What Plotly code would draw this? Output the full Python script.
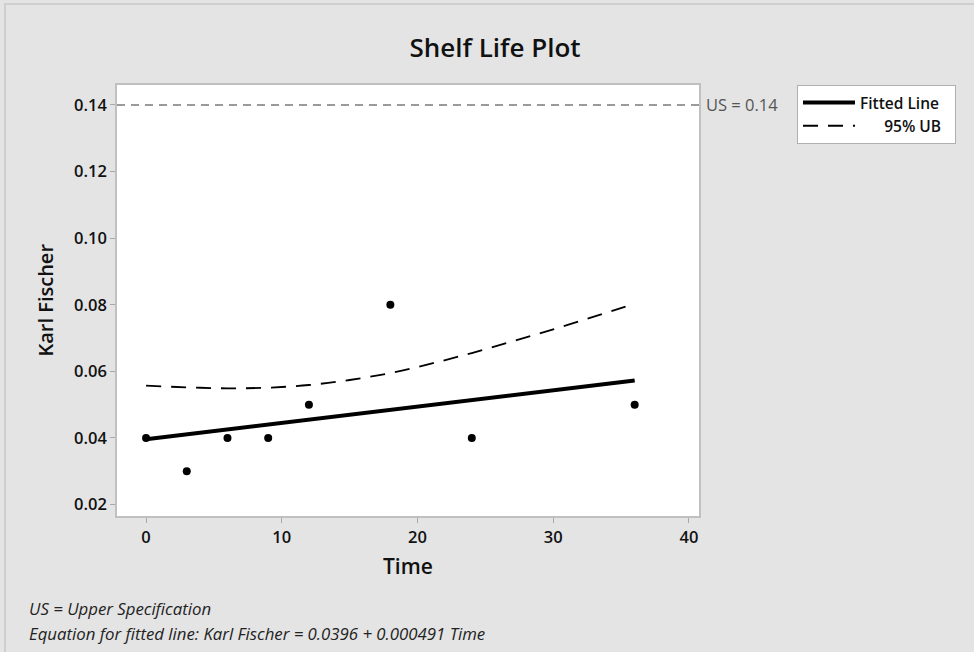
import plotly.graph_objects as go

# Stability data: Karl Fischer water content over time
time = [0, 3, 6, 9, 12, 18, 24, 36]
karl_fischer = [0.04, 0.03, 0.04, 0.04, 0.05, 0.08, 0.04, 0.05]

# Fitted line coefficients (Karl Fischer = b0 + b1 * Time)
intercept = 0.0396
slope = 0.000491
fit_time = [0, 36]
fit_value = [intercept + slope * t for t in fit_time]

# 95% upper confidence bound on the mean
ub_time = [0, 3, 6, 9, 12, 15, 18, 21, 24, 27, 30, 33, 36]
ub_value = [0.0557, 0.0552, 0.0549, 0.0551, 0.0559, 0.0574, 0.0595,
            0.0623, 0.0655, 0.0690, 0.0726, 0.0764, 0.0803]

upper_spec = 0.14
x_ticks = [0, 10, 20, 30, 40]
y_ticks = [0.02, 0.04, 0.06, 0.08, 0.10, 0.12, 0.14]

FONT = "Open Sans"
W, H = 974, 652
L, R, T, B = 117, 699, 85, 516
NBSP = "\u00a0"


def px(x):
    return (x - L) / (R - L)


def py(y):
    return (B - y) / (B - T)


fig = go.Figure()

fig.add_trace(go.Scatter(
    x=time, y=karl_fischer, mode="markers",
    marker=dict(color="black", size=8), showlegend=False,
))
fig.add_trace(go.Scatter(
    x=fit_time, y=fit_value, mode="lines", name="Fitted Line" + NBSP * 2,
    line=dict(color="black", width=4),
))
fig.add_trace(go.Scatter(
    x=ub_time, y=ub_value, mode="lines", name=NBSP * 6 + "95% UB" + NBSP * 2,
    line=dict(color="black", width=1.8, dash="15px,10px", shape="spline"),
))

# Upper specification reference line
fig.add_shape(type="line", xref="paper", yref="y", x0=0, x1=1,
              y0=upper_spec, y1=upper_spec,
              line=dict(color="#9a9a9a", width=2, dash="8px,6px"))

# Outer frame
fig.add_shape(type="rect", xref="paper", yref="paper",
              x0=px(5), x1=px(990), y0=py(670), y1=py(4),
              line=dict(color="#c8c8c8", width=1.5), layer="below")

annotations = [
    dict(text=f"US = {upper_spec:.2f}", xref="paper", yref="y",
         x=px(704), y=upper_spec, xanchor="left", yanchor="middle",
         showarrow=False, font=dict(family=FONT, size=16.5, color="#555555")),
    dict(text="Time", xref="paper", yref="paper", x=0.5, y=py(566),
         xanchor="center", yanchor="middle", showarrow=False,
         font=dict(family=FONT, size=21, color="#111111", weight=600)),
    dict(text="Karl Fischer", xref="paper", yref="paper", x=px(45), y=0.5,
         xanchor="center", yanchor="middle", textangle=-90, showarrow=False,
         font=dict(family=FONT, size=20, color="#111111", weight=600)),
    dict(text="<i>US = Upper Specification</i>", xref="paper", yref="paper",
         x=px(27), y=py(608), xanchor="left", yanchor="middle",
         showarrow=False, font=dict(family=FONT, size=16.8, color="#222222")),
    dict(text=f"<i>Equation for fitted line: Karl Fischer = {intercept} + {slope} Time</i>",
         xref="paper", yref="paper", x=px(27), y=py(633),
         xanchor="left", yanchor="middle", showarrow=False,
         font=dict(family=FONT, size=16.8, color="#222222")),
]

fig.update_layout(
    width=W, height=H,
    margin=dict(l=L, r=W - R, t=T, b=H - B),
    paper_bgcolor="#e4e4e4", plot_bgcolor="white",
    title=dict(text="Shelf Life Plot", xref="container", yref="container",
               x=495 / W, y=1 - 48 / H, xanchor="center", yanchor="middle",
               font=dict(family=FONT, size=26, color="#111111", weight=600)),
    legend=dict(x=px(797), y=1, xanchor="left", yanchor="top",
                bgcolor="white", bordercolor="#b0b0b0", borderwidth=1,
                font=dict(family=FONT, size=15.5, color="#111111", weight=600),
                itemwidth=52, tracegroupgap=0),
    annotations=annotations,
    showlegend=True,
)

axis_common = dict(
    showgrid=False, zeroline=False, showline=True, mirror=True,
    linecolor="#c0c0c0", linewidth=1.5,
    ticks="outside", ticklen=5, tickcolor="#a8a8a8", tickwidth=1,
    tickfont=dict(family=FONT, size=16.5, color="#111111", weight=600),
)
fig.update_xaxes(range=[-2.14, 40.74], tickvals=x_ticks, **axis_common)
fig.update_yaxes(range=[0.01655, 0.146], tickvals=y_ticks,
                 tickformat=".2f", **axis_common)

fig.write_html("out.html")
